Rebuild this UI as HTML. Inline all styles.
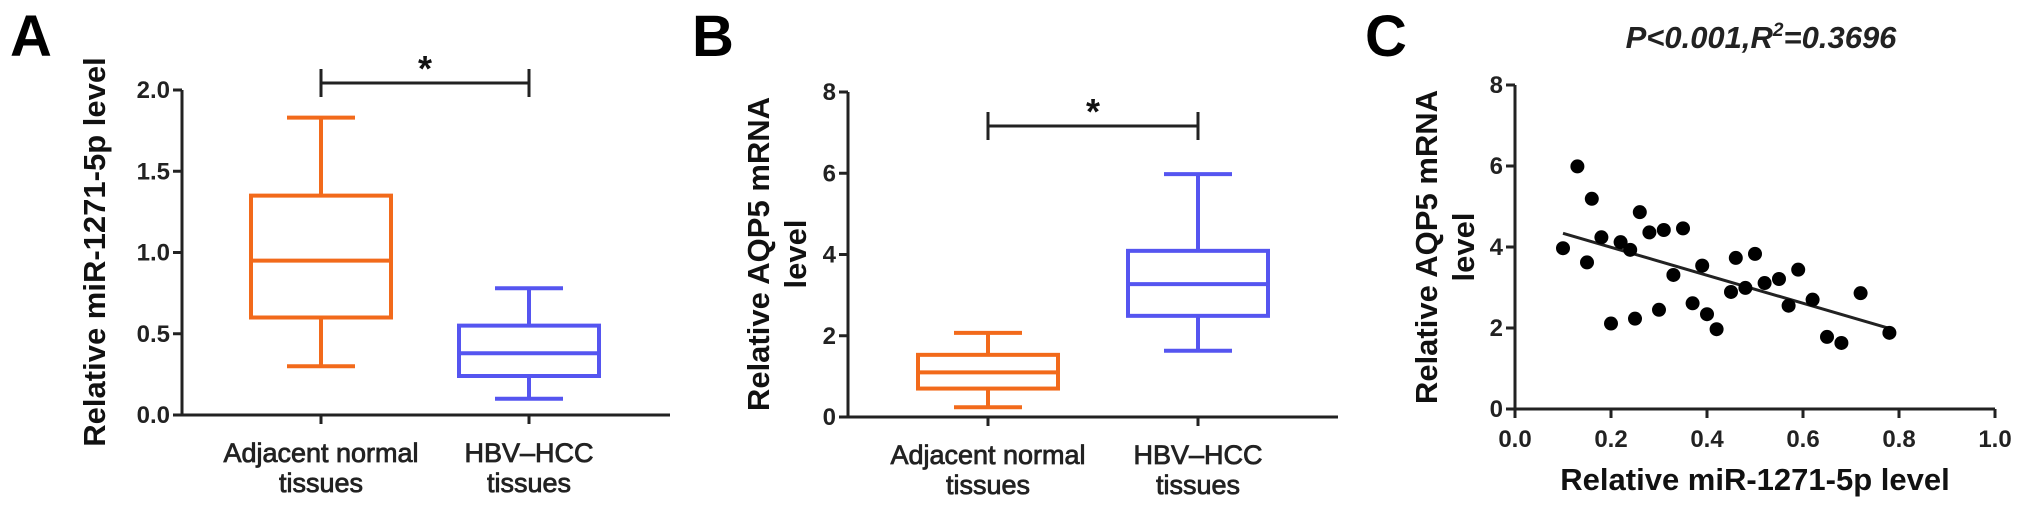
<!DOCTYPE html>
<html><head><meta charset="utf-8">
<style>
html,body{margin:0;padding:0;background:#fff;}
svg{display:block;font-family:"Liberation Sans",Arial,sans-serif;}
.tick{font-size:24px;font-weight:bold;fill:#222;}
.title{font-size:31px;font-weight:bold;fill:#111;}
.cat{font-size:27px;fill:#222;stroke:#222;stroke-width:0.8px;}
.panel{font-size:58px;font-weight:bold;fill:#000;}
</style></head>
<body>
<svg id="fig" width="2031" height="508" viewBox="0 0 2031 508" xmlns="http://www.w3.org/2000/svg"></svg>
<script>
// Panel A data (miR-1271-5p)
const catsA = ["Adjacent normal|tissues", "HBV\u2013HCC|tissues"];
const boxA_min = [0.30, 0.10];
const boxA_q1 = [0.60, 0.24];
const boxA_med = [0.95, 0.38];
const boxA_q3 = [1.35, 0.55];
const boxA_max = [1.83, 0.78];
const ticksA = ["0.0","0.5","1.0","1.5","2.0"];
// Panel B data (AQP5 mRNA)
const catsB = ["Adjacent normal|tissues", "HBV\u2013HCC|tissues"];
const boxB_min = [0.24, 1.63];
const boxB_q1 = [0.70, 2.49];
const boxB_med = [1.10, 3.27];
const boxB_q3 = [1.53, 4.09];
const boxB_max = [2.07, 5.98];
const ticksB = ["0","2","4","6","8"];
// Panel C scatter
const scatterX = [0.10,0.13,0.16,0.15,0.18,0.20,0.22,0.24,0.25,0.26,0.28,0.30,0.31,0.33,0.35,0.37,0.39,0.40,0.42,0.45,0.46,0.48,0.50,0.52,0.55,0.57,0.59,0.62,0.65,0.68,0.72,0.78];
const scatterY = [3.97,5.99,5.19,3.62,4.24,2.11,4.12,3.93,2.23,4.86,4.36,2.45,4.42,3.31,4.46,2.61,3.54,2.34,1.97,2.89,3.73,2.99,3.83,3.11,3.21,2.55,3.44,2.70,1.78,1.63,2.86,1.88];
const ticksCx = ["0.0","0.2","0.4","0.6","0.8","1.0"];
const ticksCy = ["0","2","4","6","8"];

const NS="http://www.w3.org/2000/svg";
const svg=document.getElementById('fig');
function el(tag,attrs,parent){const e=document.createElementNS(NS,tag);for(const k in attrs)e.setAttribute(k,attrs[k]);(parent||svg).appendChild(e);return e;}
function txt(s,attrs,parent){const e=el('text',attrs,parent);e.textContent=s;return e;}

function boxPanel(o){
  const g=el('g',{});
  
  
  const y=v=>o.y0-(v/o.ymax)*(o.y0-o.ytop);
  const ax=el('path',{d:`M${o.ax} ${o.ytop} V${o.y0} H${o.axEnd}`,stroke:'#222','stroke-width':3,fill:'none'},g);
  
  
  o.ticks.forEach((t,i)=>{
    const v=o.ymax*i/(o.ticks.length-1);
    el('line',{x1:o.ax-9,x2:o.ax,y1:y(v),y2:y(v),stroke:'#222','stroke-width':3},g);
    const tl=txt(t,{x:o.ax-12,y:y(v)+8,'text-anchor':'end',class:'tick'},g);
    
    
  });
  const colors=['#f26a1b','#5555f0'];
  o.cats.forEach((c,i)=>{
    const cx=o.cx[i], hw=70, cw=34;
    el('line',{x1:cx,x2:cx,y1:o.y0,y2:o.y0+9,stroke:'#222','stroke-width':3},g);
    const lines=c.split('|');
    lines.forEach((l,j)=>{
      const t=txt(l,{x:cx,y:o.y0+47+j*30,'text-anchor':'middle',class:'cat'},g);
      
      
    });
    const b=el('g',{stroke:colors[i],'stroke-width':4,fill:'none'},g);
    
    
    el('rect',{x:cx-hw,y:y(o.q3[i]),width:2*hw,height:y(o.q1[i])-y(o.q3[i])},b);
    el('line',{x1:cx-hw,x2:cx+hw,y1:y(o.med[i]),y2:y(o.med[i])},b);
    el('line',{x1:cx,x2:cx,y1:y(o.q3[i]),y2:y(o.max[i])},b);
    el('line',{x1:cx,x2:cx,y1:y(o.q1[i]),y2:y(o.min[i])},b);
    el('line',{x1:cx-cw,x2:cx+cw,y1:y(o.max[i]),y2:y(o.max[i])},b);
    el('line',{x1:cx-cw,x2:cx+cw,y1:y(o.min[i]),y2:y(o.min[i])},b);
  });
  const s=el('path',{d:`M${o.cx[0]} ${o.sigY-14} V${o.sigY+14} M${o.cx[0]} ${o.sigY} H${o.cx[1]} M${o.cx[1]} ${o.sigY-14} V${o.sigY+14}`,stroke:'#222','stroke-width':3,fill:'none'},g);
  
  
  const st=txt('*',{x:(o.cx[0]+o.cx[1])/2,y:o.sigY-2,'text-anchor':'middle','font-size':36,'font-weight':'bold',fill:'#111'},g);
  
  
  const yt=el('text',{transform:`translate(${o.titleX},${o.titleY}) rotate(-90)`,'text-anchor':'middle',class:'title'},g);
  
  
  o.title.forEach((l,j)=>{const ts=el('tspan',{x:0,dy:j===0?0:37},yt);ts.textContent=l;});
  const pl=txt(o.label,{x:o.labelX,y:56,class:'panel'},g);
  
  
}

boxPanel({name:'panel-a',label:'A',labelX:10,ax:182,axEnd:670,y0:415,ytop:90,ymax:2,ticks:ticksA,cats:catsA,cx:[321,529],
  min:boxA_min,q1:boxA_q1,med:boxA_med,q3:boxA_q3,max:boxA_max,sigY:83,title:['Relative miR-1271-5p level'],titleX:105,titleY:252});
boxPanel({name:'panel-b',label:'B',labelX:692,ax:848,axEnd:1338,y0:417,ytop:92,ymax:8,ticks:ticksB,cats:catsB,cx:[988,1198],
  min:boxB_min,q1:boxB_q1,med:boxB_med,q3:boxB_q3,max:boxB_max,sigY:126,title:['Relative AQP5 mRNA','level'],titleX:769,titleY:254});

(function(){
  const g=el('g',{});
  
  
  const X0=1515,X1=1995,Y0=409,Y1=85;
  const xs=v=>X0+v*(X1-X0);
  const ys=v=>Y0-(v/8)*(Y0-Y1);
  const ax=el('path',{d:`M${X0} ${Y1} V${Y0} H${X1}`,stroke:'#222','stroke-width':3,fill:'none'},g);
  
  
  ticksCy.forEach((t,i)=>{
    const v=8*i/(ticksCy.length-1);
    el('line',{x1:X0-9,x2:X0,y1:ys(v),y2:ys(v),stroke:'#222','stroke-width':3},g);
    const tl=txt(t,{x:X0-12,y:ys(v)+8,'text-anchor':'end',class:'tick'},g);
    
    
  });
  ticksCx.forEach((t,i)=>{
    const v=i/(ticksCx.length-1);
    el('line',{x1:xs(v),x2:xs(v),y1:Y0,y2:Y0+9,stroke:'#222','stroke-width':3},g);
    const tl=txt(t,{x:xs(v),y:Y0+38,'text-anchor':'middle',class:'tick'},g);
    
    
  });
  const n=scatterX.length;
  const mx=scatterX.reduce((a,b)=>a+b,0)/n, my=scatterY.reduce((a,b)=>a+b,0)/n;
  let sxy=0,sxx=0;for(let i=0;i<n;i++){sxy+=(scatterX[i]-mx)*(scatterY[i]-my);sxx+=(scatterX[i]-mx)**2;}
  const b=sxy/sxx,a=my-b*mx;
  const xmin=Math.min(...scatterX),xmax=Math.max(...scatterX);
  const rl=el('line',{x1:xs(xmin),y1:ys(a+b*xmin),x2:xs(xmax),y2:ys(a+b*xmax),stroke:'#222','stroke-width':3},g);
  
  
  for(let i=0;i<n;i++){
    const c=el('circle',{cx:xs(scatterX[i]),cy:ys(scatterY[i]),r:7,fill:'#000'},g);
    
    
  }
  const xt=txt('Relative miR-1271-5p level',{x:1755,y:490,'text-anchor':'middle',class:'title'},g);
  
  
  const yt=el('text',{transform:`translate(1437,247) rotate(-90)`,'text-anchor':'middle',class:'title'},g);
  
  
  ['Relative AQP5 mRNA','level'].forEach((l,j)=>{const ts=el('tspan',{x:0,dy:j===0?0:37},yt);ts.textContent=l;});
  const st=el('text',{x:1761,y:48,'text-anchor':'middle','font-size':31,'font-weight':'bold','font-style':'italic',fill:'#222'},g);
  
  
  st.innerHTML='P&lt;0.001,R<tspan dy="-12" font-size="19">2</tspan><tspan dy="12">=0.3696</tspan>';
  const pl=txt('C',{x:1365,y:56,class:'panel'},g);
  
  
})();
</script>
</body></html>
